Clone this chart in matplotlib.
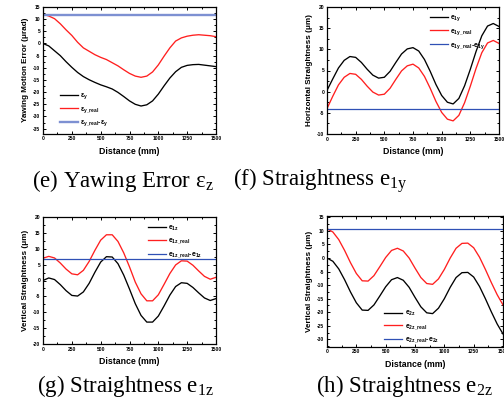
import matplotlib
matplotlib.use("Agg")
import matplotlib.pyplot as plt
from matplotlib.ticker import MultipleLocator, AutoMinorLocator

plt.rcParams['font.family'] = ['Liberation Sans', 'DejaVu Sans']
plt.rcParams['axes.unicode_minus'] = False
plt.rcParams['mathtext.fontset'] = 'custom'
plt.rcParams['mathtext.rm'] = 'Liberation Serif'
plt.rcParams['mathtext.bf'] = 'Liberation Sans:bold'
plt.rcParams['mathtext.default'] = 'bf'

# ---------------- data ----------------
distance = [0, 50, 100, 150, 200, 250, 300, 350, 400, 450, 500, 550, 600, 650, 700, 750,
            800, 850, 900, 950, 1000, 1050, 1100, 1150, 1200, 1250, 1300, 1350, 1400, 1450, 1500]

# (e) yawing error
eps_y = [0.0, -1.0, -3.0, -5.0, -7.5, -9.8, -11.9, -13.6, -14.9, -16.0, -17.0, -17.8, -18.7, -20.1,
         -21.8, -23.6, -25.0, -25.7, -25.2, -23.6, -20.8, -17.4, -14.2, -11.6, -9.8, -9.0, -8.7,
         -8.6, -8.9, -9.2, -9.5]
eps_y_real = [12.0, 11.3, 10.2, 8.1, 5.6, 3.3, 0.5, -1.8, -3.2, -4.6, -5.7, -6.6, -7.9, -9.2,
              -10.8, -12.3, -13.4, -13.9, -13.4, -11.7, -8.8, -5.2, -1.8, 1.0, 2.3, 3.0, 3.4,
              3.6, 3.4, 3.2, 2.8]
eps_y_diff = [11.8] * len(distance)

# (f) horizontal straightness
e1y = [0.3, 3.0, 5.6, 7.4, 8.3, 8.1, 6.9, 5.3, 3.9, 3.2, 3.4, 4.8, 6.9, 8.9, 10.1, 10.4, 9.6,
       7.6, 4.8, 1.7, -0.9, -2.5, -2.9, -1.6, 1.4, 5.3, 9.5, 13.2, 15.5, 16.1, 15.4]
e1y_real = [-4.0, -1.1, 1.6, 3.4, 4.3, 4.1, 2.9, 1.3, -0.1, -0.8, -0.6, 0.8, 2.9, 4.9, 6.1, 6.5,
            5.6, 3.6, 0.8, -2.3, -4.9, -6.5, -6.9, -5.6, -2.6, 1.3, 5.5, 9.2, 11.5, 12.1, 11.4]
e1y_diff = [-4.0] * len(distance)

# (g) vertical straightness e1z
e1z = [0.0, 0.8, 0.3, -1.3, -3.2, -4.7, -4.9, -3.6, -0.9, 2.6, 5.8, 7.5, 7.4, 5.3, 1.7, -2.7,
       -7.3, -11.0, -13.1, -13.1, -11.2, -8.0, -4.6, -1.9, -0.7, -0.9, -2.2, -3.9, -5.5, -6.3, -5.7]
e1z_real = [7.0, 7.6, 7.1, 5.5, 3.6, 2.1, 1.8, 3.2, 6.0, 9.5, 12.7, 14.4, 14.4, 12.3, 8.7, 4.3,
            -0.5, -4.2, -6.4, -6.4, -4.5, -1.2, 2.2, 4.9, 6.2, 6.1, 4.8, 3.0, 1.3, 0.4, 1.0]
e1z_diff = [6.8] * len(distance)

# (h) vertical straightness e2z
e2z = [0.0, -1.2, -4.0, -8.0, -12.5, -16.5, -19.2, -19.3, -17.3, -14.0, -10.6, -8.0, -7.2, -8.2,
       -10.8, -14.5, -18.0, -20.2, -20.5, -18.5, -15.0, -10.8, -7.2, -5.4, -5.3, -7.0, -10.5,
       -15.0, -19.8, -24.3, -28.0]
e2z_real = [10.8, 9.6, 6.8, 2.8, -1.7, -5.7, -8.4, -8.5, -6.5, -3.2, 0.2, 2.8, 3.6, 2.6, 0.0,
            -3.7, -7.2, -9.4, -9.7, -7.7, -4.2, 0.0, 3.6, 5.4, 5.5, 3.8, 0.3, -4.2, -9.0, -13.5, -17.3]
e2z_diff = [10.8] * len(distance)

xticks = [0, 250, 500, 750, 1000, 1250, 1500]

# ---------------- figure ----------------
W, H = 504, 405
fig = plt.figure(figsize=(W / 100, H / 100), dpi=100)
fig.patch.set_facecolor('white')


def make_axes(l, t, r, b):
    return fig.add_axes([l / W, 1 - b / H, (r - l) / W, (b - t) / H])


def style(ax, ylim, ylabel):
    ax.set_xlim(0, 1500)
    ax.set_ylim(*ylim)
    ax.set_xticks(xticks)
    ax.yaxis.set_major_locator(MultipleLocator(5))
    ax.xaxis.set_minor_locator(AutoMinorLocator(2))
    ax.yaxis.set_minor_locator(AutoMinorLocator(2))
    ax.tick_params(which='both', direction='in', top=True, right=True, width=0.7,
                   labelsize=3.6, pad=2)
    ax.tick_params(which='major', length=2.4)
    ax.tick_params(which='minor', length=1.3)
    for lab in ax.get_xticklabels() + ax.get_yticklabels():
        lab.set_fontweight('bold')
    for s in ax.spines.values():
        s.set_linewidth(0.9)
    ax.set_xlabel('Distance (mm)', fontsize=6.3, fontweight='bold', labelpad=4)
    ax.set_ylabel(ylabel, fontsize=5.9, fontweight='bold', labelpad=3)


def add_legend(ax, anchor):
    ax.legend(loc='upper left', bbox_to_anchor=anchor, frameon=False,
              prop={'size': 5.0, 'weight': 'bold'},
              handlelength=2.6, labelspacing=0.55, handletextpad=0.35, borderaxespad=0)


RED = '#ff1f1f'
lw = 0.95

# (e)
ax = make_axes(43, 7, 216, 133.5)
ax.plot(distance, eps_y, color='black', lw=lw, label='ε$_{y}$')
ax.plot(distance, eps_y_real, color=RED, lw=lw, label='ε$_{y\\_real}$')
ax.plot(distance, eps_y_diff, color='#7d90d2', lw=1.7, label='ε$_{y\\_real}$-ε$_{y}$')
style(ax, (-37, 15), 'Yawing Motion Error (μrad)')
add_legend(ax, (0.08, 0.355))

# (f)
ax = make_axes(327, 7, 499, 134)
ax.plot(distance, e1y, color='black', lw=lw, label='e$_{1y}$')
ax.plot(distance, e1y_real, color=RED, lw=lw, label='e$_{1y\\_real}$')
ax.plot(distance, e1y_diff, color='#2f50b5', lw=0.9, label='e$_{1y\\_real}$-e$_{1y}$')
style(ax, (-10, 20), 'Horizontal Straightness (μm)')
add_legend(ax, (0.58, 0.97))

# (g)
ax = make_axes(43, 217, 216, 344)
ax.plot(distance, e1z, color='black', lw=lw, label='e$_{1z}$')
ax.plot(distance, e1z_real, color=RED, lw=lw, label='e$_{1z\\_real}$')
ax.plot(distance, e1z_diff, color='#2f50b5', lw=0.9, label='e$_{1z\\_real}$-e$_{1z}$')
style(ax, (-20, 20), 'Vertical Straightness (μm)')
add_legend(ax, (0.59, 0.97))

# (h)
ax = make_axes(327, 216, 503, 346.7)
ax.plot(distance, e2z, color='black', lw=lw, label='e$_{2z}$')
ax.plot(distance, e2z_real, color=RED, lw=lw, label='e$_{2z\\_real}$')
ax.plot(distance, e2z_diff, color='#2f50b5', lw=0.9, label='e$_{2z\\_real}$-e$_{2z}$')
style(ax, (-32.7, 15.5), 'Vertical Straightness (μm)')
add_legend(ax, (0.31, 0.31))

# captions
cap_kw = dict(fontsize=16.5, fontweight='normal', family='Liberation Serif', ha='center', va='center')
fig.text(123 / W, 1 - 181 / H, '(e) Yawing Error ε$\\mathrm{_{z}}$', **cap_kw)
fig.text(320 / W, 1 - 181 / H, '(f) Straightness e$\\mathrm{_{1y}}$', **cap_kw)
fig.text(125 / W, 1 - 386 / H, '(g) Straightness e$\\mathrm{_{1z}}$', **cap_kw)
fig.text(404 / W, 1 - 386 / H, '(h) Straightness e$\\mathrm{_{2z}}$', **cap_kw)

fig.savefig('out.png', dpi=100, facecolor='white')
